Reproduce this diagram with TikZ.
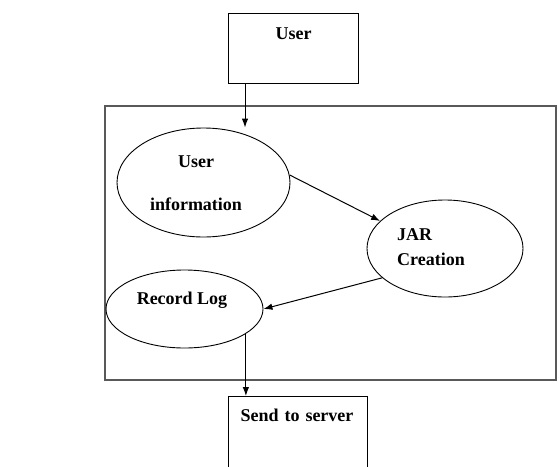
\documentclass[tikz,border=0pt]{standalone}
\usepackage{fontspec}
\setmainfont{Liberation Serif}
\usetikzlibrary{arrows.meta,calc,shapes.geometric}
\tikzset{line/.style={draw, line width=1pt, -{Latex[length=9pt, width=6.5pt]}}}

\begin{document}
\begin{tikzpicture}[x=1pt, y=-1pt, font=\fontsize{18}{22}\selectfont\bfseries]
\tikzstyle{block} = [rectangle, draw, line width=1pt, inner sep=0pt]
\tikzstyle{bubble} = [ellipse, draw, line width=0.9pt, inner sep=0pt]
\tikzstyle{frame} = [rectangle, draw=black!65, line width=1.6pt, inner sep=0pt]

\useasboundingbox (0,0) rectangle (559,466);

% blocks
    \node [frame, anchor=north west, minimum width=451pt, minimum height=274pt] (system) at (104,105) {};
    \node [block, anchor=north west, text width=130pt, align=center, text height=26pt, text depth=44pt] (user) at (228,13) {User};
    \node [bubble, minimum width=173pt, minimum height=109pt, label={[align=center, xshift=-7.5pt, yshift=-1pt, font=\fontsize{18}{43}\selectfont\bfseries]center:User\\information}] (info) at (203.5,182.5) {};
    \node [bubble, minimum width=156pt, minimum height=97pt, label={[align=left, xshift=-14pt, yshift=1pt, font=\fontsize{18}{25}\selectfont\bfseries]center:JAR\\Creation}] (jar) at (445,248.5) {};
    \node [bubble, minimum width=157pt, minimum height=78pt, label={[xshift=-2.5pt, yshift=9pt]center:Record Log}] (rec) at (184.5,309) {};
    \node [block, anchor=north west, text width=115pt, inner xsep=12pt, align=left, text height=25pt, text depth=59pt] (send) at (228,396) {Send to server};
    \coordinate (drop) at ($(user.south west)+(17,0)$);
% arrows
    \path [line] (drop) -- (drop |- info.north);
    \path [line] (info.5) -- (jar.157);
    \path [line] (jar.205) -- (rec.east);
    \path [line] (rec.338) -- (rec.338 |- send.north);
\end{tikzpicture}
\end{document}
